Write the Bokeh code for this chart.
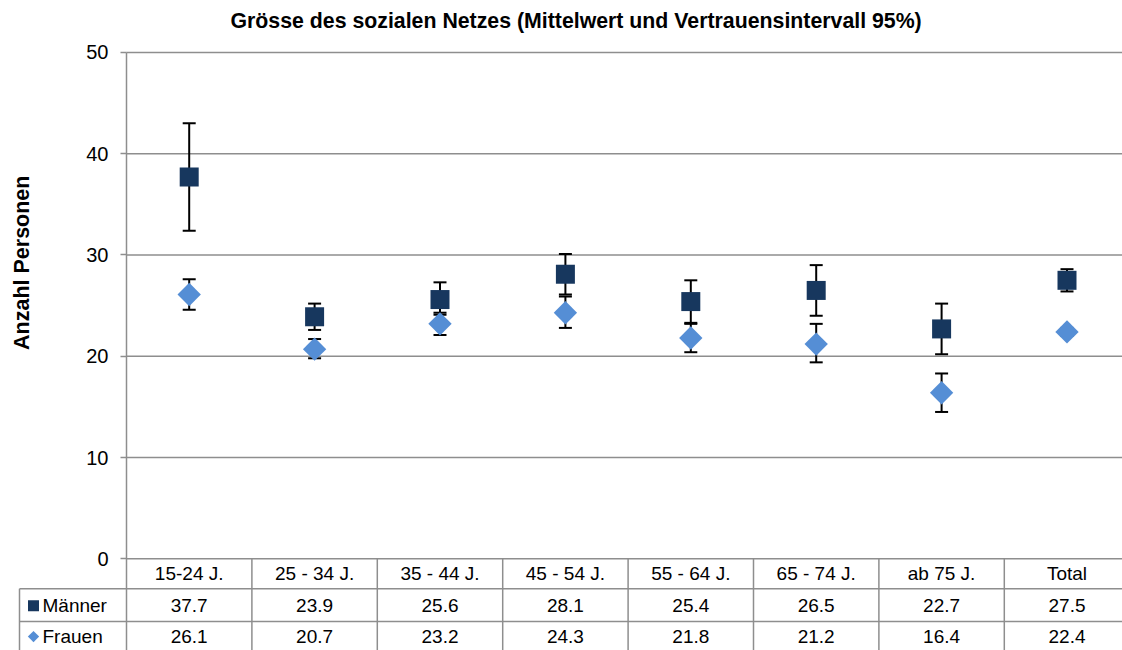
import math
from bokeh.plotting import figure
from bokeh.models import (Range1d, LinearAxis, FixedTicker, Whisker, TeeHead,
                          ColumnDataSource, Grid)
from bokeh.core.properties import value
from bokeh.embed import file_html
from bokeh.resources import INLINE

# ---------------- data ----------------
TITLE = "Grösse des sozialen Netzes (Mittelwert und Vertrauensintervall 95%)"
Y_LABEL = "Anzahl Personen"
CATEGORIES = ["15-24 J.", "25 - 34 J.", "35 - 44 J.", "45 - 54 J.",
              "55 - 64 J.", "65 - 74 J.", "ab 75 J.", "Total"]
SERIES = ["Männer", "Frauen"]
MAENNER = [37.7, 23.9, 25.6, 28.1, 25.4, 26.5, 22.7, 27.5]
MAENNER_LOW = [32.4, 22.6, 24.1, 26.1, 23.3, 24.0, 20.2, 26.4]
MAENNER_HIGH = [43.0, 25.2, 27.3, 30.1, 27.5, 29.0, 25.2, 28.6]
FRAUEN = [26.1, 20.7, 23.2, 24.3, 21.8, 21.2, 16.4, 22.4]
FRAUEN_LOW = [24.6, 19.8, 22.1, 22.8, 20.4, 19.4, 14.5, 22.0]
FRAUEN_HIGH = [27.6, 21.7, 24.3, 25.9, 23.2, 23.2, 18.3, 22.8]
Y_TICKS = [0, 10, 20, 30, 40, 50]

# ---------------- layout (pixels) ----------------
W, H = 1122, 650
PX_X = 125.4          # pixels per category
PX_Y = 10.16          # pixels per unit
AXIS_PX = 126         # figure x of the value axis
ZERO_PX = 558         # figure y of value 0
FRAME_LEFT = 0
FRAME_TOP = 36
TABLE_LEFT_PX = 19
ROW_LINES_PX = [588, 621]
ROW_TEXT_PX = [573, 605, 636]
KEY_PX = 33
KEY_TEXT_PX = 42
YLABEL_PX = (21, 261)

FONT = "Liberation Sans"
GRID_COLOR = "#8E8E8E"
C_M = "#17375E"
C_F = "#558ED5"


def x_of(px):
    return -0.5 + (px - AXIS_PX) / PX_X


def y_of(py):
    return (ZERO_PX - py) / PX_Y


x_start, x_end = x_of(FRAME_LEFT), x_of(W)
y_start, y_end = y_of(H), y_of(FRAME_TOP)

p = figure(width=W, height=H, output_backend="svg", toolbar_location=None,
           x_range=Range1d(x_start, x_end), y_range=Range1d(y_start, y_end),
           x_axis_location=None, y_axis_location=None,
           min_border_left=FRAME_LEFT, min_border_right=0,
           min_border_top=FRAME_TOP, min_border_bottom=0)
p.outline_line_color = None
p.background_fill_color = "white"
p.border_fill_color = "white"
for g in p.select(type=Grid):
    g.visible = False

p.title.text = TITLE
p.title.align = "left"
p.title.text_font = FONT
p.title.text_font_size = "21.3px"
p.title.text_font_style = "bold"
p.title.text_color = "black"
p.title.offset = 230
p.title.standoff = 12

# gridlines (incl. the zero line that is the top of the table)
p.segment(x0=[-0.5] * len(Y_TICKS), x1=[x_end] * len(Y_TICKS),
          y0=Y_TICKS, y1=Y_TICKS, line_color=GRID_COLOR, line_width=1.5,
          level="underlay")

# value axis placed at the category edge
yaxis = LinearAxis(ticker=FixedTicker(ticks=Y_TICKS), fixed_location=-0.5,
                   bounds=(y_start, Y_TICKS[-1]))
yaxis.axis_line_color = GRID_COLOR
yaxis.axis_line_width = 1.5
yaxis.major_tick_line_color = GRID_COLOR
yaxis.major_tick_line_width = 1.5
yaxis.major_tick_out = 6
yaxis.major_tick_in = 0
yaxis.minor_tick_line_color = None
yaxis.major_label_text_font = FONT
yaxis.major_label_text_font_size = "20px"
yaxis.major_label_text_color = "black"
yaxis.major_label_standoff = 12
p.add_layout(yaxis, "left")

# y axis title
p.text(x=[x_of(YLABEL_PX[0])], y=[y_of(YLABEL_PX[1])], text=[Y_LABEL],
       angle=math.pi / 2, text_font=value(FONT), text_font_size="21.5px",
       text_font_style="bold", text_align="center", text_baseline="middle",
       text_color="black")

# error bars
xs = list(range(len(CATEGORIES)))
for lo, hi in ((MAENNER_LOW, MAENNER_HIGH), (FRAUEN_LOW, FRAUEN_HIGH)):
    src = ColumnDataSource(dict(x=xs, lo=lo, hi=hi))
    w = Whisker(source=src, base="x", lower="lo", upper="hi",
                dimension="height", line_color="black", line_width=2,
                upper_head=TeeHead(size=13, line_color="black", line_width=2),
                lower_head=TeeHead(size=13, line_color="black", line_width=2),
                level="underlay")
    p.add_layout(w)

# markers
p.scatter(x=xs, y=MAENNER, marker="square", size=19, fill_color=C_M,
          line_color=None)
p.scatter(x=xs, y=FRAUEN, marker="square", angle=math.pi / 4, size=16.5,
          fill_color=C_F, line_color=None)

# ---------------- data table ----------------
n = len(CATEGORIES)
tl = x_of(TABLE_LEFT_PX)
row_y = [y_of(v) for v in ROW_LINES_PX]
p.segment(x0=[tl] * 2, x1=[x_end] * 2, y0=row_y, y1=row_y,
          line_color=GRID_COLOR, line_width=1.5)
sep = [i + 0.5 for i in range(n - 1)]
p.segment(x0=sep, x1=sep, y0=[0] * len(sep), y1=[y_start] * len(sep),
          line_color=GRID_COLOR, line_width=1.5)
p.segment(x0=[tl], x1=[tl], y0=[row_y[0]], y1=[y_start],
          line_color=GRID_COLOR, line_width=1.5)

ty = [y_of(v) for v in ROW_TEXT_PX]
common = dict(text_font=value(FONT), text_font_size="19px",
              text_baseline="middle", text_color="black")
p.text(x=xs, y=[ty[0]] * n, text=CATEGORIES, text_align="center", **common)
p.text(x=xs, y=[ty[1]] * n, text=[f"{v:.1f}" for v in MAENNER],
       text_align="center", **common)
p.text(x=xs, y=[ty[2]] * n, text=[f"{v:.1f}" for v in FRAUEN],
       text_align="center", **common)
p.text(x=[x_of(KEY_TEXT_PX)] * 2, y=ty[1:], text=SERIES, text_align="left",
       **common)
p.scatter(x=[x_of(KEY_PX)], y=[ty[1]], marker="square", size=11,
          fill_color=C_M, line_color=None)
p.scatter(x=[x_of(KEY_PX)], y=[ty[2]], marker="square", angle=math.pi / 4,
          size=8, fill_color=C_F, line_color=None)

open("out.html", "w").write(file_html(p, INLINE))
